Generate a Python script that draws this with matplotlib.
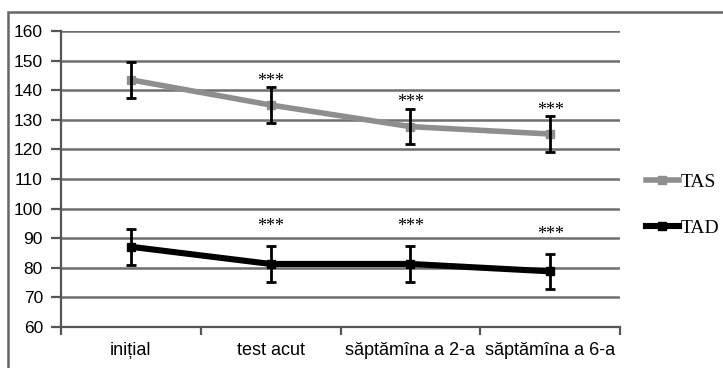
import matplotlib.pyplot as plt
from matplotlib.patches import Rectangle

# data
categories = ["inițial", "test acut", "săptămîna a 2-a", "săptămîna a 6-a"]
tas_mean = [143.5, 135.0, 127.7, 125.2]
tas_err = [6.0, 6.0, 6.0, 6.0]
tad_mean = [87.1, 81.3, 81.3, 78.8]
tad_err = [6.0, 6.0, 6.0, 6.0]
tas_signif = [False, True, True, True]
tad_signif = [False, True, True, True]
yticks = [60, 70, 80, 90, 100, 110, 120, 130, 140, 150, 160]

tas_color = "#8e8e8e"
tad_color = "#000000"
grid_color = "#6f6f6f"

fig = plt.figure(figsize=(7.23, 3.68), dpi=100)
ax = fig.add_axes([61 / 723, 1 - 327 / 368, 559 / 723, 296 / 368])

x = list(range(len(categories)))

for yv in yticks[1:]:
    ax.axhline(yv, color=grid_color, lw=1.8, zorder=1)

ax.plot(x, tas_mean, color=tas_color, lw=4.0, marker="s", ms=5.5, label="TAS", zorder=3)
ax.plot(x, tad_mean, color=tad_color, lw=4.4, marker="s", ms=5.5, label="TAD", zorder=3)
ax.errorbar(x, tas_mean, yerr=tas_err, fmt="none", ecolor="black", elinewidth=2.0,
            capsize=3.8, capthick=2.0, zorder=4)
ax.errorbar(x, tad_mean, yerr=tad_err, fmt="none", ecolor="black", elinewidth=2.0,
            capsize=3.8, capthick=2.0, zorder=4)

# significance stars
for xi, m, e, s in zip(x, tas_mean, tas_err, tas_signif):
    if s:
        ax.text(xi, m + e + 2.0, "***", ha="center", va="center",
                family="Liberation Serif", fontsize=13)
for xi, m, e, s in zip(x, tad_mean, tad_err, tad_signif):
    if s:
        ax.text(xi, m + e + 6.5, "***", ha="center", va="center",
                family="Liberation Serif", fontsize=13)

ax.set_xlim(-0.5, len(categories) - 0.5)
ax.set_ylim(60, 160)
ax.set_yticks(yticks)
ax.set_xticks([i - 0.5 for i in range(len(categories) + 1)])
ax.set_xticklabels([])
ax.set_xticks(x, minor=True)
ax.set_xticklabels(categories, minor=True, fontsize=13, family="Liberation Sans")
ax.tick_params(axis="x", which="major", length=6, width=1.6, color="#555555", direction="out")
ax.tick_params(axis="x", which="minor", length=0, pad=11)
ax.tick_params(axis="y", length=7, width=1.6, color="#555555", pad=6, labelsize=12.5)
for lab in ax.get_yticklabels():
    lab.set_family("Liberation Sans")

for side in ["top", "right"]:
    ax.spines[side].set_visible(False)
for side in ["left", "bottom"]:
    ax.spines[side].set_color("#555555")
    ax.spines[side].set_linewidth(1.6)

ax.legend(loc="center left", bbox_to_anchor=(628 / 723, 1 - 205 / 368),
          bbox_transform=fig.transFigure, frameon=False, handlelength=1.7,
          handletextpad=0.1, labelspacing=1.45, prop={"family": "Liberation Serif", "size": 14})

# outer frame of the original picture (right and bottom edges cut off)
fig.patches.append(Rectangle((8 / 723, -0.1), 1.0, 1 - 12 / 368 + 0.1,
                             transform=fig.transFigure, fill=False,
                             edgecolor="#666666", lw=1.8))

fig.savefig("out.png", dpi=100)
